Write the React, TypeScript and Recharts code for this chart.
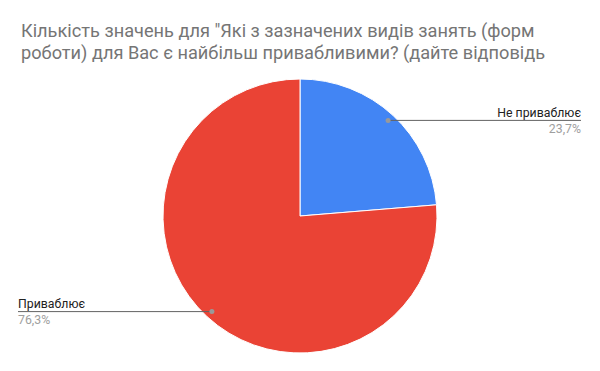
import React from "react";
import { PieChart, Pie, Cell } from "recharts";

const titleLines = [
  "Кількість значень для \"Які з зазначених видів занять (форм",
  "роботи) для Вас є найбільш привабливими? (дайте відповідь",
];
const categories = ["Не приваблює", "Приваблює"];
const values = [23.7, 76.3];
const percentLabels = ["23,7%", "76,3%"];
const colors = ["#4285F4", "#EA4335"];

const data = categories.map((name, i) => ({ name, value: values[i] }));

const RAD = Math.PI / 180;
const FONT = "Roboto, Arial, sans-serif";

const renderLabel = (props: any) => {
  const { cx, cy, midAngle, outerRadius, index } = props;
  const r = outerRadius - 7;
  const x = cx + r * Math.cos(-midAngle * RAD);
  const y = cy + r * Math.sin(-midAngle * RAD);
  const right = x > cx;
  const endX = right ? 581 : 18;
  return (
    <g key={`lbl-${index}`}>
      <line x1={x} y1={y} x2={endX} y2={y} stroke="#636363" strokeWidth={1} />
      <circle cx={x} cy={y} r={2.5} fill="#999999" />
      <text
        x={endX}
        y={y - 3.5}
        textAnchor={right ? "end" : "start"}
        fontFamily={FONT}
        fontSize={12.3}
        fill="#222222"
      >
        {categories[index]}
      </text>
      <text
        x={endX}
        y={y + 12.5}
        textAnchor={right ? "end" : "start"}
        fontFamily={FONT}
        fontSize={12.3}
        fill="#9e9e9e"
      >
        {percentLabels[index]}
      </text>
    </g>
  );
};

export default function App() {
  return (
    <div
      style={{
        position: "fixed",
        left: 0,
        top: 0,
        width: 600,
        height: 371,
        background: "#ffffff",
      }}
    >
      <svg
        width={600}
        height={80}
        style={{ position: "absolute", left: 0, top: 0, zIndex: 2 }}
      >
        {titleLines.map((t, i) => (
          <text
            key={i}
            x={21}
            y={37 + i * 22}
            fontFamily={FONT}
            fontSize={18.2}
            fill="#757575"
          >
            {t}
          </text>
        ))}
      </svg>
      <div style={{ position: "absolute", left: 0, top: 0 }}>
        <PieChart width={600} height={371} margin={{ top: 0, right: 0, bottom: 0, left: 0 }}>
          <Pie
            data={data}
            dataKey="value"
            nameKey="name"
            cx={300}
            cy={216}
            outerRadius={137}
            startAngle={90}
            endAngle={-270}
            stroke="#ffffff"
            strokeWidth={1}
            label={renderLabel}
            labelLine={false}
            isAnimationActive={false}
          >
            {data.map((d, i) => (
              <Cell key={d.name} fill={colors[i]} />
            ))}
          </Pie>
        </PieChart>
      </div>
    </div>
  );
}
